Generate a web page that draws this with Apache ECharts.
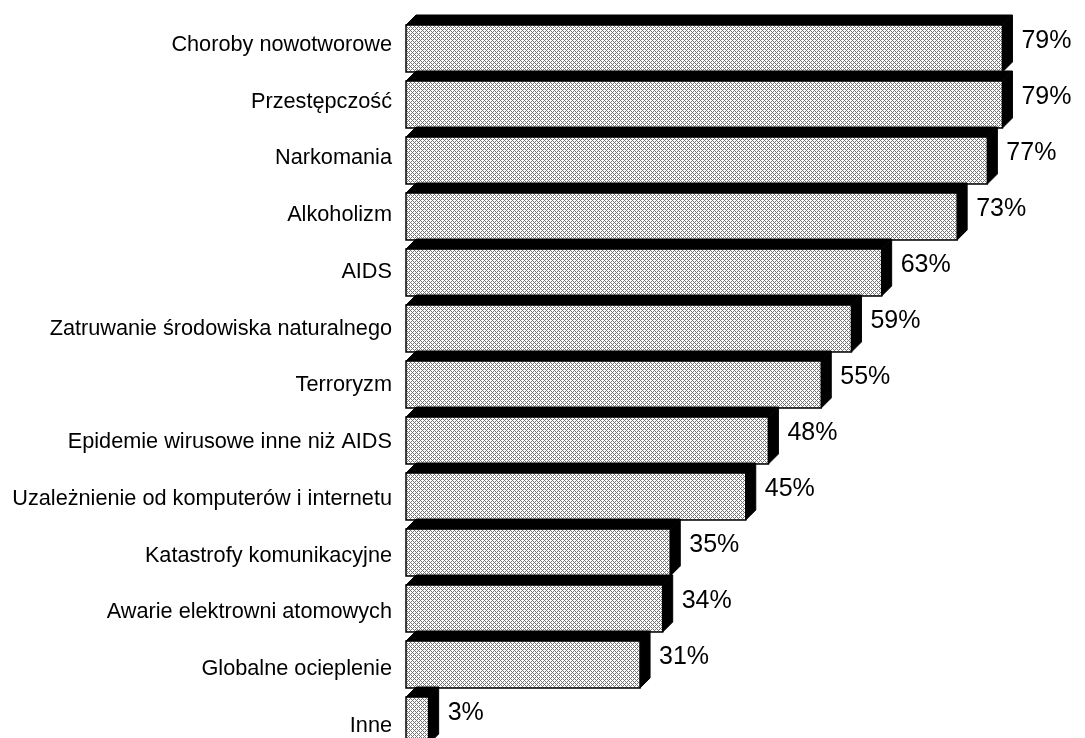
<!DOCTYPE html>
<html>
<head>
<meta charset="utf-8">
<script src="https://cdn.jsdelivr.net/npm/echarts@6/dist/echarts.min.js"></script>
<style>
html,body{margin:0;padding:0;background:#fff;}
#c{width:1085px;height:738px;}
</style>
</head>
<body>
<div id="c"></div>
<script>
const categories = [
  'Choroby nowotworowe',
  'Przestępczość',
  'Narkomania',
  'Alkoholizm',
  'AIDS',
  'Zatruwanie środowiska naturalnego',
  'Terroryzm',
  'Epidemie wirusowe inne niż AIDS',
  'Uzależnienie od komputerów i internetu',
  'Katastrofy komunikacyjne',
  'Awarie elektrowni atomowych',
  'Globalne ocieplenie',
  'Inne'
];
const values = [79, 79, 77, 73, 63, 59, 55, 48, 45, 35, 34, 31, 3];

// pattern tile
const tile = document.createElement('canvas');
tile.width = 4; tile.height = 4;
(function(){
  const map = [
    'X...',
    '.X.X',
    '..X.',
    '.X.X'
  ];
  const g = tile.getContext('2d');
  g.fillStyle = '#ffffff';
  g.fillRect(0,0,4,4);
  for (let y = 0; y < 4; y++) for (let x = 0; x < 4; x++) {
    if (map[y][x] === 'X') { g.fillStyle = '#747474'; g.fillRect(x, y, 1, 1); }
  }
})();
const pattern = { image: tile, repeat: 'repeat' };

const data = values.map((v, i) => [i, v]);

const font = 'Liberation Sans, Arial, sans-serif';

const chart = echarts.init(document.getElementById('c'));
chart.setOption({
  animation: false,
  backgroundColor: '#fff',
  grid: [
    { left: 406, width: 755, top: 20.5, height: 728, outerBoundsMode: 'none', containLabel: false },
    { left: 406, width: 755, top: 16.6, height: 737.75, outerBoundsMode: 'none', containLabel: false }
  ],
  xAxis: [
    { type: 'value', min: 0, max: 100, show: false, gridIndex: 0 },
    { type: 'value', min: 0, max: 100, show: false, gridIndex: 1 }
  ],
  yAxis: [
    {
      type: 'category',
      gridIndex: 0,
      inverse: true,
      data: categories,
      axisLine: { show: false },
      axisTick: { show: false },
      splitLine: { show: false },
      axisLabel: { show: false }
    },
    {
      type: 'category',
      gridIndex: 1,
      inverse: true,
      data: categories,
      axisLine: { show: false },
      axisTick: { show: false },
      splitLine: { show: false },
      axisLabel: {
        color: '#000',
        fontSize: 21.7,
        fontFamily: font,
        margin: 14
      }
    }
  ],
  series: [{
    type: 'custom',
    xAxisIndex: 0,
    yAxisIndex: 0,
    clip: false,
    encode: { y: 0, x: 1 },
    data: data,
    renderItem: function (params, api) {
      const idx = api.value(0), v = api.value(1);
      const p = api.coord([v, idx]);
      const p0 = api.coord([0, idx]);
      const h = 47, d = 10;
      const top = p[1] - h / 2, bot = p[1] + h / 2;
      const x0 = p0[0], xr = p[0];
      return {
        type: 'group',
        children: [
          {
            type: 'polygon',
            shape: { points: [[x0, top], [x0 + d, top - d], [xr + d, top - d], [xr, top]] },
            style: { fill: '#000', stroke: '#000', lineWidth: 1 }
          },
          {
            type: 'polygon',
            shape: { points: [[xr, top], [xr + d, top - d], [xr + d, bot - d], [xr, bot]] },
            style: { fill: '#000', stroke: '#000', lineWidth: 1 }
          },
          {
            type: 'rect',
            shape: { x: x0, y: top, width: xr - x0, height: h },
            style: { fill: pattern, stroke: '#000', lineWidth: 1.5 }
          },
          {
            type: 'text',
            style: {
              text: v + '%',
              x: xr + 19,
              y: p[1] - 7,
              fill: '#000',
              fontSize: 25,
              fontFamily: font,
              align: 'left',
              verticalAlign: 'middle'
            }
          }
        ]
      };
    }
  }]
});
</script>
</body>
</html>
